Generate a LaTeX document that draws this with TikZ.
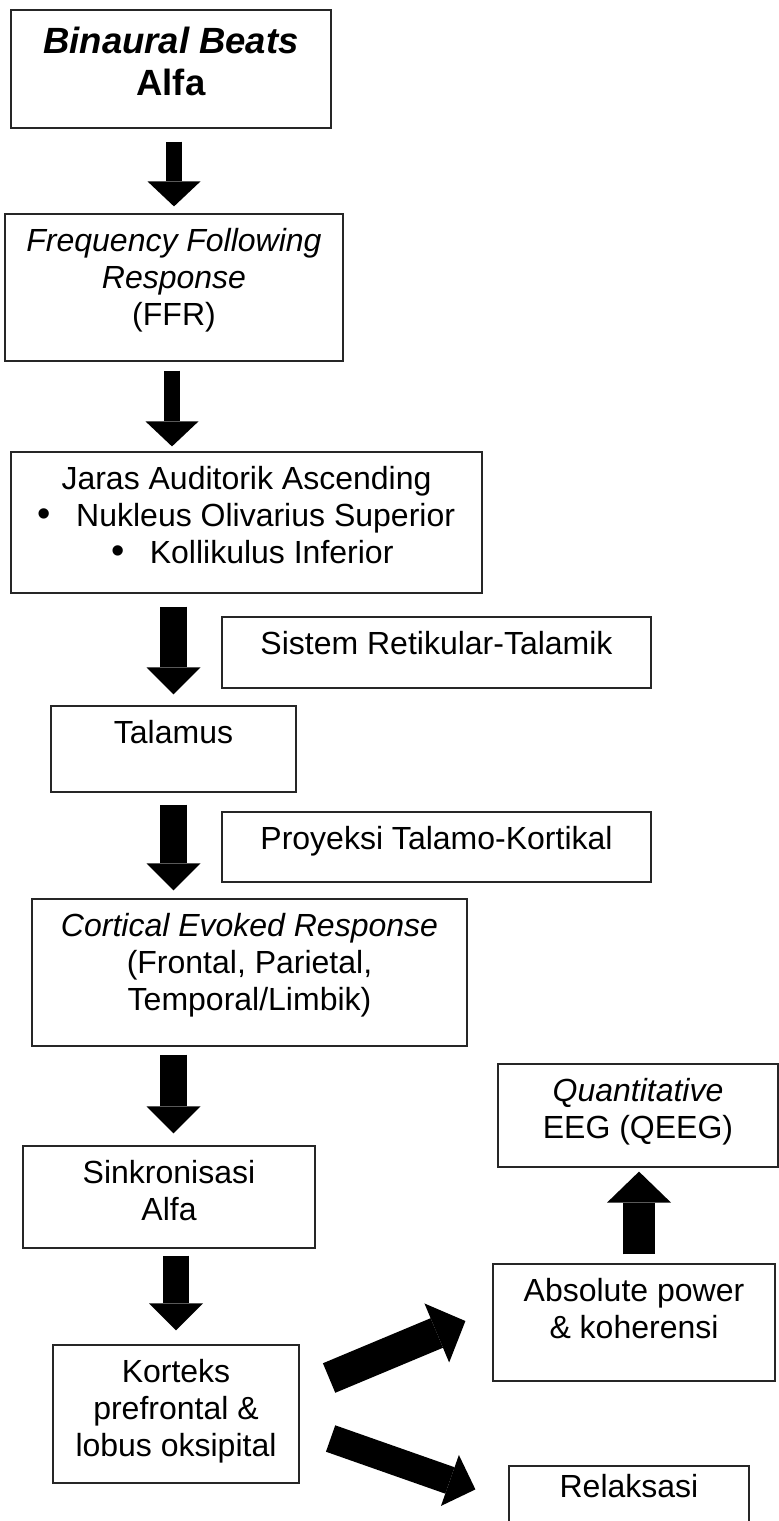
\documentclass[tikz,border=0pt]{standalone}
\usepackage{fontspec}
\setmainfont{Liberation Sans}
\usepackage{tikz}
\usetikzlibrary{arrows.meta}

% text of a block: set from the top, first baseline #1 below the top edge
\newcommand{\boxtext}[4][37pt]{\parbox[c][#3][t]{#2}{\centering\rule{0pt}{#1}#4\par}}
\newcommand{\bigbullet}{{\fontsize{38}{37}\selectfont •}}

\begin{document}
\begin{tikzpicture}[x=1pt, y=-1pt, font=\fontsize{32}{37}\selectfont]
		% Define styles for the blocks and arrows
		\tikzstyle{block} = [rectangle, draw=black!85, line width=1.2pt, inner sep=0pt]
		\tikzstyle{arrow} = [line width=26.5pt, -{Triangle[length=27pt, width=54pt, line width=0pt]}]
		\tikzstyle{thinarrow} = [line width=16.5pt, -{Triangle[length=25pt, width=53pt, line width=0pt]}]
		\tikzstyle{widearrow} = [line width=32pt, -{Triangle[length=31pt, width=64pt, line width=0pt]}]

		\useasboundingbox (0,0) rectangle (779,1521);

		% Define the nodes (blocks)
		\node (binaural) [block] at (171,69) {\boxtext[43pt]{320pt}{118pt}{\fontsize{36.5}{42}\selectfont\textbf{\textit{Binaural Beats}}\\\textbf{Alfa}}};
		\node (ffr) [block] at (174,287.5) {\boxtext{338pt}{147pt}{\textit{Frequency Following}\\\textit{Response}\\(FFR)}};
		\node (jaras) [block] at (246.5,522.5) {\boxtext{471pt}{141pt}{Jaras Auditorik Ascending\\\bigbullet\hspace{25pt}Nukleus Olivarius Superior\\\hspace*{12pt}\bigbullet\hspace{25pt}Kollikulus Inferior}};
		\node (sistem) [block] at (436.5,652.5) {\boxtext{429pt}{71pt}{Sistem Retikular-Talamik}};
		\node (talamus) [block] at (173.5,749) {\boxtext{245pt}{86pt}{Talamus}};
		\node (proyeksi) [block] at (436.5,847) {\boxtext{429pt}{70pt}{Proyeksi Talamo-Kortikal}};
		\node (cortical) [block] at (249.5,972.5) {\boxtext{435pt}{147pt}{\textit{Cortical Evoked Response}\\(Frontal, Parietal,\\Temporal/Limbik)}};
		\node (sinkron) [block] at (169,1197) {\boxtext{292pt}{102pt}{Sinkronisasi\\Alfa}};
		\node (korteks) [block] at (176,1414) {\boxtext{246pt}{138pt}{Korteks\\prefrontal \&\\lobus oksipital}};
		\node (qeeg) [block] at (638,1115.5) {\boxtext{280pt}{103pt}{\textit{Quantitative}\\EEG (QEEG)}};
		\node (absolute) [block] at (634,1322.5) {\boxtext{282pt}{117pt}{Absolute power\\\& koherensi}};
		\node (relaksasi) [block] at (629,1516) {\boxtext[31pt]{240pt}{100pt}{Relaksasi}};

		% Draw arrows between the blocks
		\draw [thinarrow, shorten <=13pt, shorten >=7pt] ([xshift=3pt]binaural.south) -- ([xshift=3pt]binaural.south |- ffr.north);
		\draw [thinarrow, shorten <=9pt, shorten >=5pt] ([xshift=-2pt]ffr.south) -- ([xshift=-2pt]ffr.south |- jaras.north);
		\draw [arrow, shorten <=13pt, shorten >=11pt] (talamus.north |- jaras.south) -- (talamus.north);
		\draw [arrow, shorten <=12pt, shorten >=8pt] (talamus.south) -- (talamus.south |- cortical.north);
		\draw [arrow, shorten <=8pt, shorten >=12pt] ([xshift=4.5pt]sinkron.north |- cortical.south) -- ([xshift=4.5pt]sinkron.north);
		\draw [arrow, shorten <=7pt, shorten >=14pt] (korteks.north |- sinkron.south) -- (korteks.north);
		\draw [widearrow, shorten <=9pt, shorten >=4pt] ([xshift=1pt]qeeg.south |- absolute.north) -- ([xshift=1pt]qeeg.south);
		\draw [widearrow] ([shift={(29.5,-36)}]korteks.east) -- ([shift={(-27,-1.5)}]absolute.west);
		\draw [arrow, line width=28pt] ([shift={(31,24.5)}]korteks.east) -- ([shift={(-33,24)}]relaksasi.north west);
	\end{tikzpicture}
\end{document}
